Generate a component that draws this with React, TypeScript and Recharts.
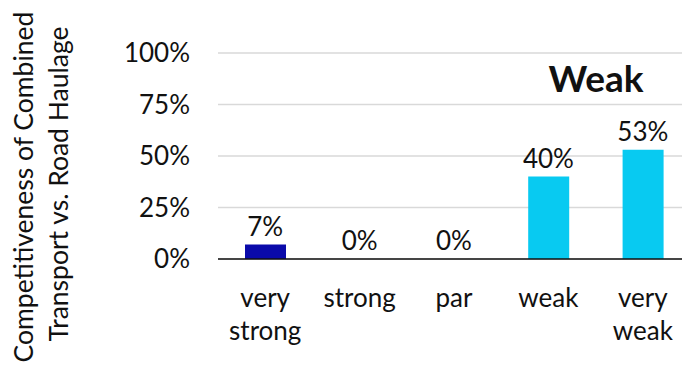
import React from "react";
import { ComposedChart, Bar, Line, XAxis, YAxis, CartesianGrid, Cell, LabelList, Customized } from "recharts";

const categories = ["very strong", "strong", "par", "weak", "very weak"];
const shares = [0.07, 0, 0, 0.4, 0.53];
const barColors = ["#0A0AAA", "#0A0AAA", "#0A0AAA", "#08CAF1", "#08CAF1"];
const yTicks = [0, 0.25, 0.5, 0.75, 1];
const verdict = "Weak";
const axisTitle = ["Competitiveness of Combined", "Transport vs. Road Haulage"];

const data = categories.map((c, i) => ({ category: c, share: shares[i] }));

const FONT = "Lato, 'Open Sans', sans-serif";
const pct = (v: number) => `${Math.round(v * 100)}%`;

const XTick = (props: any) => {
  const { x, y, payload } = props;
  const words: string[] = String(payload.value).split(" ");
  return (
    <g>
      {words.map((w, i) => (
        <text key={i} x={x} y={y + 40 + i * 33} textAnchor="middle" fontSize={26} fontFamily={FONT} fill="#111">
          {w}
        </text>
      ))}
    </g>
  );
};

const YTick = (props: any) => {
  const { x, y, payload } = props;
  return (
    <text x={x} y={y + 9} textAnchor="end" fontSize={26} fontFamily={FONT} fill="#111">
      {pct(payload.value)}
    </text>
  );
};

const Titles = () => (
  <g fontFamily={FONT} fill="#111">
    {axisTitle.map((t, i) => (
      <text key={i} transform={`translate(${33 + i * 35},${187 - i * 3}) rotate(-90)`} textAnchor="middle" fontSize={26.5}>
        {t}
      </text>
    ))}
    <text x={596} y={92} textAnchor="middle" fontSize={37} fontWeight="bold">
      {verdict}
    </text>
  </g>
);

export default function App() {
  return (
    <div style={{ position: "absolute", left: 0, top: 0, width: 682, height: 367, overflow: "hidden", background: "#fff" }}>
      <ComposedChart width={690} height={367} data={data} margin={{ top: 53, right: 0, bottom: 78, left: 0 }}>
        <CartesianGrid vertical={false} stroke="#d9d9d9" strokeWidth={1.5} />
        <YAxis
          domain={[0, 1]}
          ticks={yTicks}
          width={218}
          axisLine={false}
          tickLine={false}
          tickMargin={22}
          tick={<YTick />}
        />
        <XAxis
          dataKey="category"
          axisLine={{ stroke: "#111", strokeWidth: 1.5 }}
          tickLine={false}
          interval={0}
          tick={<XTick />}
        />
        <Bar dataKey="share" barSize={41} isAnimationActive={false}>
          {data.map((d, i) => (
            <Cell key={d.category} fill={barColors[i]} />
          ))}
        </Bar>
        {/* value labels, one per category including zero values */}
        <Line dataKey="share" stroke="none" dot={false} activeDot={false} isAnimationActive={false}>
          <LabelList
            dataKey="share"
            position="top"
            offset={9}
            formatter={(v: any) => pct(Number(v))}
            style={{ fontSize: 26, fontFamily: FONT, fill: "#111" }}
          />
        </Line>
        <Customized component={<Titles />} />
      </ComposedChart>
    </div>
  );
}
